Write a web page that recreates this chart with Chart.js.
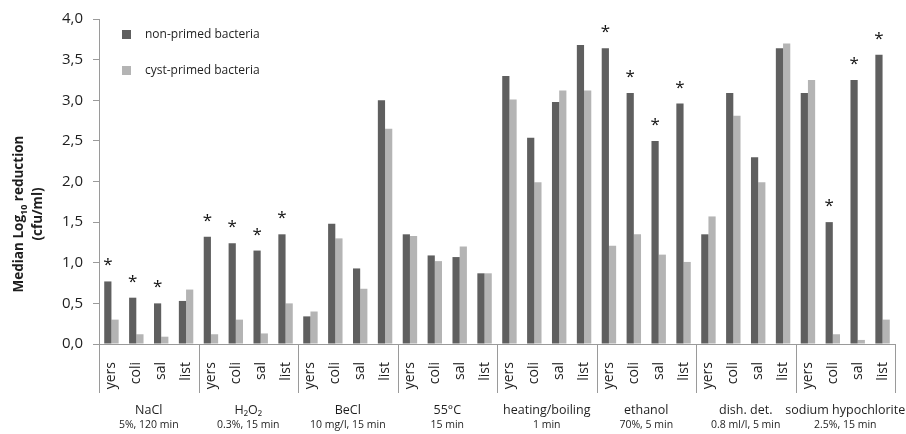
<!DOCTYPE html>
<html>
<head>
<meta charset="utf-8">
<script src="https://cdn.jsdelivr.net/npm/chart.js@4"></script>
<style>
  html, body { margin: 0; padding: 0; background: #fff; }
  #wrap { width: 906px; height: 434px; position: relative; }
</style>
</head>
<body>
<div id="wrap"><canvas id="c"></canvas></div>
<script>
// ---- data ----
var groups = ['NaCl', 'H\u2082O\u2082', 'BeCl', '55\u00b0C', 'heating/boiling', 'ethanol', 'dish. det.', 'sodium hypochlorite'];
var conditions = ['5%, 120 min', '0.3%, 15 min', '10 mg/l, 15 min', '15 min', '1 min', '70%, 5 min', '0.8 ml/l, 5 min', '2.5%, 15 min'];
var organisms = ['yers', 'coli', 'sal', 'list'];

var nonPrimed = [
    0.77, 0.57, 0.50, 0.53,
    1.32, 1.24, 1.15, 1.35,
    0.34, 1.48, 0.93, 3.00,
    1.35, 1.09, 1.07, 0.87,
    3.30, 2.54, 2.98, 3.68,
    3.64, 3.09, 2.50, 2.96,
    1.35, 3.09, 2.30, 3.64,
    3.09, 1.50, 3.25, 3.56
];
var cystPrimed = [
    0.30, 0.12, 0.09, 0.67,
    0.12, 0.30, 0.13, 0.50,
    0.40, 1.30, 0.68, 2.65,
    1.33, 1.02, 1.20, 0.87,
    3.01, 1.99, 3.12, 3.12,
    1.21, 1.35, 1.10, 1.01,
    1.57, 2.81, 1.99, 3.70,
    3.25, 0.12, 0.05, 0.30
];
// 1 = asterisk above the non-primed bar
var significant = [
    1, 1, 1, 0,
    1, 1, 1, 1,
    0, 0, 0, 0,
    0, 0, 0, 0,
    0, 0, 0, 0,
    1, 1, 1, 1,
    0, 0, 0, 0,
    0, 1, 1, 1
];
var yMin = 0, yMax = 4, yStep = 0.5;

var DARK = '#5f5f5f';
var LIGHT = '#b4b4b4';
var AXIS = '#9a9a9a';
var TEXT = '#1e1e1e';

// labels built from groups x organisms
var labels = [];
groups.forEach(function () {
    organisms.forEach(function (o) { labels.push(o); });
});

Chart.defaults.font.family = "'Open Sans', 'Noto Sans', sans-serif";
Chart.defaults.color = TEXT;

// --------------------------------------------------
//  Extras: group brackets, labels, stars, legend, y title
// --------------------------------------------------
var extras = {
    id: 'extras',
    afterDraw: function (chart) {
        var c = chart.ctx;
        var a = chart.chartArea;
        var n = labels.length;
        var w = (a.right - a.left) / n;
        var bottom = a.bottom + 49;

        c.save();

        // group separators
        c.strokeStyle = AXIS;
        c.lineWidth = 1;
        for (var g = 0; g <= groups.length; g++) {
            var x = Math.round(a.left + g * organisms.length * w) + 0.5;
            c.beginPath();
            c.moveTo(x, a.bottom);
            c.lineTo(x, bottom);
            c.stroke();
        }

        // group labels
        c.fillStyle = TEXT;
        c.textAlign = 'center';
        c.textBaseline = 'middle';
        for (var i = 0; i < groups.length; i++) {
            var cx = a.left + (i + 0.5) * organisms.length * w;
            c.font = "12.5px 'Open Sans'";
            c.fillText(groups[i], cx, a.bottom + 66);
            c.font = "10.5px 'Open Sans'";
            c.fillText(conditions[i], cx, a.bottom + 81);
        }

        // asterisks
        var meta = chart.getDatasetMeta(0);
        c.font = "17px 'Open Sans'";
        c.textBaseline = 'alphabetic';
        c.fillStyle = '#111';
        for (var k = 0; k < n; k++) {
            if (!significant[k]) continue;
            var bar = meta.data[k];
            c.fillText('*', bar.x, bar.y - 11);
        }

        // legend
        c.textAlign = 'left';
        c.textBaseline = 'middle';
        c.font = "12px 'Open Sans'";
        c.fillStyle = DARK;
        c.fillRect(122, 30, 9, 9);
        c.fillStyle = LIGHT;
        c.fillRect(122, 66, 9, 9);
        c.fillStyle = TEXT;
        c.fillText('non-primed bacteria', 145, 35);
        c.fillText('cyst-primed bacteria', 145, 71);

        // y-axis title with subscript
        c.translate(18.5, 214);
        c.rotate(-Math.PI / 2);
        var big = "bold 13.5px 'Open Sans'";
        var small = "bold 9px 'Open Sans'";
        c.font = big;
        var w1 = c.measureText('Median Log').width;
        var w3 = c.measureText(' reduction').width;
        c.font = small;
        var w2 = c.measureText('10').width;
        var sx = -(w1 + w2 + w3) / 2;
        c.textBaseline = 'alphabetic';
        c.font = big;
        c.fillText('Median Log', sx, 4);
        c.font = small;
        c.fillText('10', sx + w1, 8);
        c.font = big;
        c.fillText(' reduction', sx + w1 + w2, 4);
        c.textAlign = 'center';
        c.fillText('(cfu/ml)', 0, 4 + 19.5);

        c.restore();
    }
};

new Chart(document.getElementById('c'), {
    type: 'bar',
    data: {
        labels: labels,
        datasets: [
            {
                label: 'non-primed bacteria',
                data: nonPrimed,
                backgroundColor: DARK,
                categoryPercentage: 0.58,
                barPercentage: 1.0
            },
            {
                label: 'cyst-primed bacteria',
                data: cystPrimed,
                backgroundColor: LIGHT,
                categoryPercentage: 0.58,
                barPercentage: 1.0
            }
        ]
    },
    options: {
        responsive: true,
        maintainAspectRatio: false,
        animation: false,
        layout: { padding: { top: 16, right: 11, left: 0, bottom: 0 } },
        plugins: {
            legend: { display: false },
            tooltip: { enabled: false }
        },
        scales: {
            x: {
                grid: { display: false },
                border: { display: true, color: AXIS },
                ticks: {
                    minRotation: 90,
                    maxRotation: 90,
                    autoSkip: false,
                    padding: 10,
                    color: TEXT,
                    font: { size: 14 }
                },
                afterFit: function (scale) {
                    scale.height = 90;
                    scale.paddingLeft = 0;
                    scale.paddingRight = 0;
                }
            },
            y: {
                min: yMin,
                max: yMax,
                grid: { drawOnChartArea: false, drawTicks: true, tickLength: 6, color: AXIS },
                border: { display: true, color: AXIS },
                ticks: {
                    stepSize: yStep,
                    padding: 10,
                    color: TEXT,
                    font: { size: 15 },
                    callback: function (v) { return v.toFixed(1).replace('.', ','); }
                },
                afterFit: function (scale) { scale.width = 99; }
            }
        }
    },
    plugins: [extras]
});
</script>
</body>
</html>
